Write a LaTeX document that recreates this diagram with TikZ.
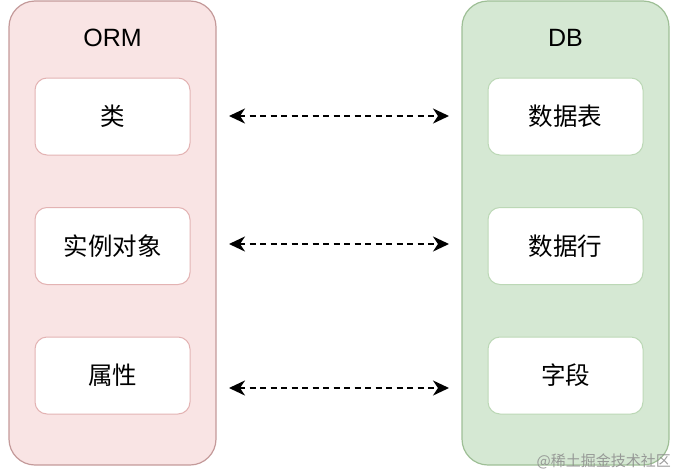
\documentclass[tikz,border=0pt]{standalone}
\usepackage{fontspec}
\setmainfont{Liberation Sans}
\newfontfamily\cjk{Noto Sans CJK SC}
\usetikzlibrary{arrows.meta}
\definecolor{ormfill}{HTML}{F9E4E4}
\definecolor{ormdraw}{HTML}{C49A9A}
\definecolor{orminner}{HTML}{E3B3B3}
\definecolor{dbfill}{HTML}{D5E8D3}
\definecolor{dbdraw}{HTML}{9EBF96}
\definecolor{dbinner}{HTML}{BCD8B6}
\tikzset{
  container/.style={draw, line width=1.2pt, rounded corners=26pt, minimum width=207pt, minimum height=464pt, inner sep=0pt},
  ormbox/.style={container, fill=ormfill, draw=ormdraw},
  dbbox/.style={container, fill=dbfill, draw=dbdraw},
  item/.style={fill=white, line width=1pt, rounded corners=12pt, minimum width=155pt, minimum height=77pt, inner sep=0pt, font=\cjk\fontsize{24.5}{27}\selectfont},
  ormitem/.style={item, draw=orminner},
  dbitem/.style={item, draw=dbinner},
  title/.style={font=\fontsize{25}{29}\selectfont, inner sep=0pt},
  link/.style={line width=2.4pt, dash pattern=on 6pt off 4.5pt, {Stealth[length=16pt,width=15pt,inset=5pt]}-{Stealth[length=16pt,width=15pt,inset=5pt]}}
}
\begin{document}
\begin{tikzpicture}[x=1pt,y=-1pt]
\useasboundingbox (0,0) rectangle (675,474);
\node[ormbox] (orm) at (112.5,233) {};
\node[dbbox] (db) at (565.5,233) {};
\node[title] (ormt) at (112.5,38) {ORM};
\node[title] (dbt) at (565.5,38) {DB};
\node[ormitem] (c1) at (112.5,116.5) {类};
\node[ormitem] (c2) at (112.5,246) {实例对象};
\node[ormitem] (c3) at (112.5,375.5) {属性};
\node[dbitem] (d1) at (565.5,116.5) {数据表};
\node[dbitem] (d2) at (565.5,246) {数据行};
\node[dbitem] (d3) at (565.5,375.5) {字段};
\coordinate (a1l) at (229,116);
\coordinate (a1r) at (449,116);
\coordinate (a2l) at (229,244);
\coordinate (a2r) at (449,244);
\coordinate (a3l) at (229,388);
\coordinate (a3r) at (449,388);
\draw[link] (a1l) -- (a1r);
\draw[link] (a2l) -- (a2r);
\draw[link] (a3l) -- (a3r);
\node[font=\cjk\fontsize{15}{17}\selectfont, text=black!45, opacity=0.85, anchor=east, inner sep=0pt] (wm) at (671,461) {@稀土掘金技术社区};
\end{tikzpicture}
\end{document}
